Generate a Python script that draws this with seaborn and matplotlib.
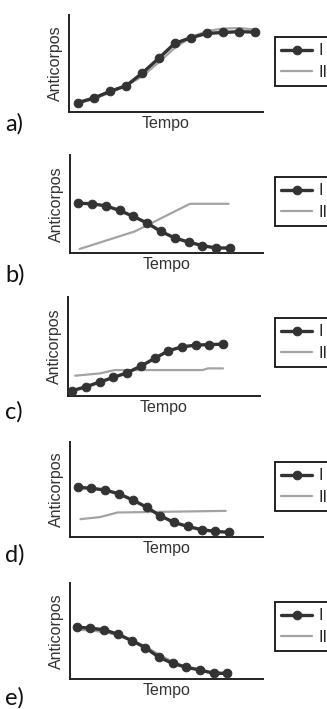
import numpy as np
import pandas as pd
import seaborn as sns
import matplotlib.pyplot as plt

sns.set_style("white")
plt.rcParams["font.family"] = ["Liberation Sans", "DejaVu Sans"]

# time points of curve I (same for every panel)
tempo = [1, 2, 3, 4, 5, 6, 7, 8, 9, 10, 11, 12]

# curve I (black, with markers), relative antibody level 0-100
a_I = [9.7, 14.5, 21.4, 27.2, 40.3, 55.2, 70.7, 76.6, 81.0, 82.0, 82.8, 82.4]
b_I = [50.8, 50.2, 48.1, 43.4, 37.3, 30.5, 22.0, 15.3, 11.2, 7.5, 5.1, 5.1]
c_I = [5.4, 9.4, 14.1, 18.8, 23.5, 30.2, 37.9, 45.6, 49.7, 51.3, 52.0, 52.3]
d_I = [52.3, 51.2, 49.5, 45.3, 39.0, 31.4, 22.3, 15.3, 11.1, 7.7, 5.9, 4.9]
e_I = [54.0, 53.0, 51.2, 46.7, 40.1, 32.8, 22.6, 16.4, 12.2, 9.4, 5.9, 5.9]

# curve II (grey line), own vertices
a_II_t = [1, 2, 3, 4, 5, 6, 7, 8, 9, 10, 11, 12]
a_II = [9.0, 13.5, 20.0, 27.0, 37.0, 51.0, 66.0, 77.0, 83.5, 86.0, 86.5, 85.0]
b_II_t = [1.1, 5.1, 9.1, 11.9]
b_II = [4.1, 22.0, 50.2, 50.2]
c_II_t = [1.2, 3.0, 4.1, 10.5, 10.9, 12.0]
c_II = [20.5, 22.8, 26.2, 26.2, 27.9, 27.9]
d_II_t = [1.2, 2.6, 3.9, 11.75]
d_II = [18.8, 20.9, 25.8, 27.5]
e_II_t = [1, 2, 3, 4, 5, 6, 7, 8, 9, 10, 11, 12]
e_II = [51.5, 50.5, 49.0, 45.5, 40.5, 34.0, 25.5, 18.0, 12.5, 9.0, 7.0, 6.0]

letras = ["a)", "b)", "c)", "d)", "e)"]
series_I = [a_I, b_I, c_I, d_I, e_I]
series_II = [(a_II_t, a_II), (b_II_t, b_II), (c_II_t, c_II), (d_II_t, d_II), (e_II_t, e_II)]

W, H = 327, 709
fig = plt.figure(figsize=(W / 100, H / 100), dpi=100)

# pixel boxes: left, right, top, bottom, xlim, legend top, letter center y
paineis = [
    (69, 263, 15, 112, (0.44, 12.48), 37, 124),
    (70, 263, 155, 253, (0.40, 14.40), 177, 275),
    (68, 260, 297, 396, (0.68, 14.70), 318, 412),
    (70, 263, 442, 537, (0.44, 14.46), 462, 555),
    (70, 263, 583, 679, (0.51, 14.60), 602, 698),
]

preto = "#333333"
cinza = "#a3a3a3"

for i, (l, r, t, b, xl, lt, ly) in enumerate(paineis):
    ax = fig.add_axes([l / W, 1 - b / H, (r - l) / W, (b - t) / H])
    tx, ty = series_II[i]
    sns.lineplot(x=tx, y=ty, ax=ax, color=cinza, linewidth=1.6, label="II", zorder=2)
    sns.lineplot(x=tempo, y=series_I[i], ax=ax, color=preto, linewidth=2.4,
                 marker="o", markersize=6.2, markeredgecolor=preto, label="I", zorder=3)
    ax.set_xlim(*xl)
    ax.set_ylim(0, 100)
    ax.set_xticks([])
    ax.set_yticks([])
    sns.despine(ax=ax)
    for s in ["left", "bottom"]:
        ax.spines[s].set_color("#222222")
        ax.spines[s].set_linewidth(1.4)
    ax.set_xlabel("Tempo", fontsize=11.5, labelpad=3)
    ax.set_ylabel("Anticorpos", fontsize=11.5, labelpad=4, color="#333333")
    ax.xaxis.label.set_color("#333333")

    h, lab = ax.get_legend_handles_labels()
    leg = ax.legend([h[1], h[0]], [lab[1], lab[0]], loc="upper left",
                    bbox_to_anchor=(275 / W, 1 - lt / H), bbox_transform=fig.transFigure,
                    fontsize=11.5, frameon=True, fancybox=False, borderpad=0.4,
                    handlelength=1.9, handletextpad=0.4, labelspacing=0.4,
                    borderaxespad=0)
    leg.get_frame().set_edgecolor("#111111")
    leg.get_frame().set_linewidth(1.3)
    leg.get_frame().set_alpha(1)

    fig.text(5 / W, 1 - ly / H, letras[i], fontsize=17, ha="left", va="center",
             family=["Lato", "DejaVu Sans"], color="#111111")

fig.savefig("out.png", dpi=100)
